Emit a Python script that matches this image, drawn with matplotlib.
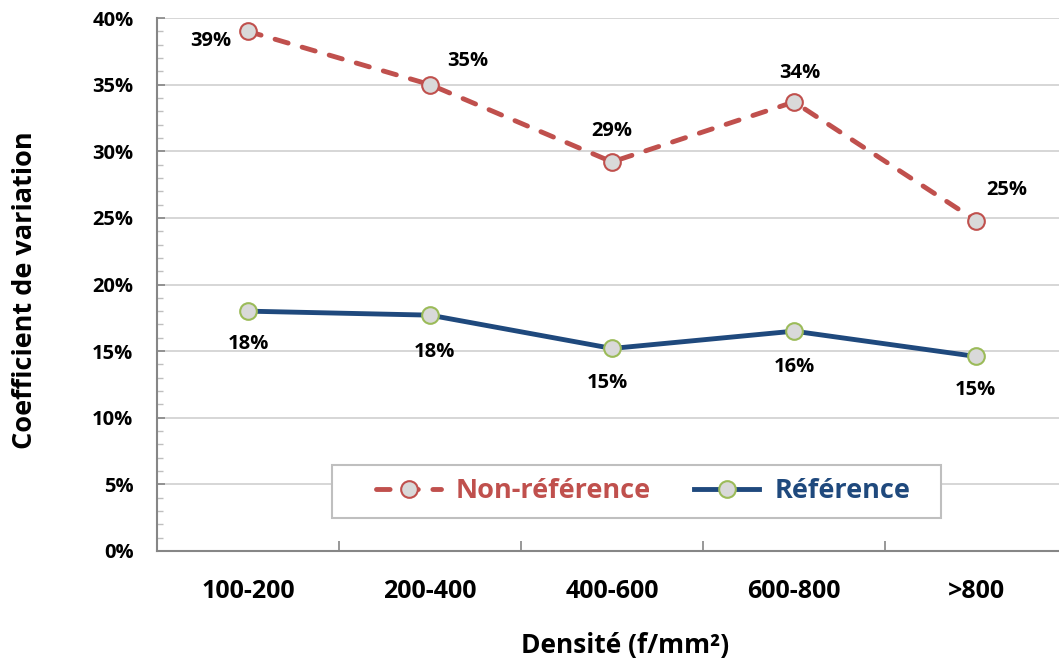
import matplotlib
matplotlib.use("Agg")
import matplotlib.pyplot as plt
from matplotlib.patches import Rectangle
from matplotlib.ticker import MultipleLocator, FuncFormatter

categories = ["100-200", "200-400", "400-600", "600-800", ">800"]
non_ref = [39.0, 35.0, 29.2, 33.7, 24.8]
ref = [18.0, 17.7, 15.2, 16.5, 14.6]
non_ref_labels = ["39%", "35%", "29%", "34%", "25%"]
ref_labels = ["18%", "18%", "15%", "16%", "15%"]

RED = "#C0504D"
BLUE = "#1F497D"
GREEN = "#9BBB59"
FILL = "#D9D9D9"

plt.rcParams['font.family'] = ['Open Sans', 'DejaVu Sans']
plt.rcParams['font.weight'] = 'bold'

W, H = 1059, 663
fig = plt.figure(figsize=(W/100, H/100), dpi=100)
ax = fig.add_axes([157/W, 1-551/H, 1-157/W, (551-18)/H])

x = list(range(len(categories)))
l1, = ax.plot(x, non_ref, color=RED, lw=3.5, ls=(0, (2.8, 3.0)), dash_capstyle='round',
              marker='o', ms=12, mfc=FILL, mec=RED, mew=1.5, label="Non-référence", zorder=3)
l2, = ax.plot(x, ref, color=BLUE, lw=3.5, marker='o', ms=12,
              mfc=FILL, mec=GREEN, mew=1.5, label="Référence", zorder=3)

off_non = [(-37, -10), (38, 24), (0, 31), (6, 29), (31, 31)]
off_ref = [(0, -33), (4, -37), (-5, -35), (0, -36), (-1, -34)]
for i, (v, t) in enumerate(zip(non_ref, non_ref_labels)):
    ax.annotate(t, (i, v), xytext=off_non[i], textcoords='offset pixels',
                ha='center', va='center', fontsize=14.5, fontweight='bold', color='black')
for i, (v, t) in enumerate(zip(ref, ref_labels)):
    ax.annotate(t, (i, v), xytext=off_ref[i], textcoords='offset pixels',
                ha='center', va='center', fontsize=14.5, fontweight='bold', color='black')

ax.set_xlim(-0.5, -0.5 + (W-157)/182)
ax.set_ylim(0, 40)
ax.yaxis.set_major_locator(MultipleLocator(5))
ax.yaxis.set_minor_locator(MultipleLocator(1))
ax.yaxis.set_major_formatter(FuncFormatter(lambda v, p: f"{int(v)}%"))
ax.set_xticks(x)
ax.set_xticklabels(categories)
ax.set_xticks([0.5, 1.5, 2.5, 3.5], minor=True)
ax.tick_params(axis='x', which='major', length=0, pad=20.5, labelsize=18)
ax.tick_params(axis='x', which='minor', direction='in', length=7, color='#868686', width=1.2)
ax.tick_params(axis='y', which='major', direction='in', length=6, color='#868686', width=1.2,
               labelsize=14.5, pad=17)
ax.tick_params(axis='y', which='minor', direction='in', length=4, color='#BFBFBF', width=1)
ax.grid(axis='y', which='major', color='#D0D0D0', lw=1.2)
ax.set_axisbelow(True)
for s in ['top', 'right']:
    ax.spines[s].set_visible(False)
for s in ['left', 'bottom']:
    ax.spines[s].set_color('#868686')
    ax.spines[s].set_linewidth(1.5)

ax.set_ylabel("Coefficient de variation", fontsize=19.5, fontweight='bold')
ax.yaxis.set_label_coords((25-157)/902, (551-290)/533)
ax.yaxis.label.set_va('center')
ax.set_xlabel("Densité (f/mm²)", fontsize=19, fontweight='bold')
ax.xaxis.set_label_coords((625-157)/902, (551-645)/533)
ax.xaxis.label.set_va('center')

# legend box
ax.add_patch(Rectangle(((332-157)/902, (551-518)/533), (941-332)/902, 53/533,
                       transform=ax.transAxes, facecolor='white', edgecolor='#BFBFBF',
                       lw=1.5, zorder=4))
leg = ax.legend(handles=[l1, l2], loc='center left', ncol=2,
                bbox_to_anchor=((376-157)/902, (551-491)/533),
                frameon=False, prop={'size': 19.5, 'weight': 'bold'},
                handlelength=2.4, columnspacing=1.6, borderpad=0, borderaxespad=0,
                handletextpad=0.55)
leg.set_zorder(5)
leg.get_texts()[0].set_color(RED)
leg.get_texts()[1].set_color(BLUE)

fig.savefig("out.png", dpi=100)
